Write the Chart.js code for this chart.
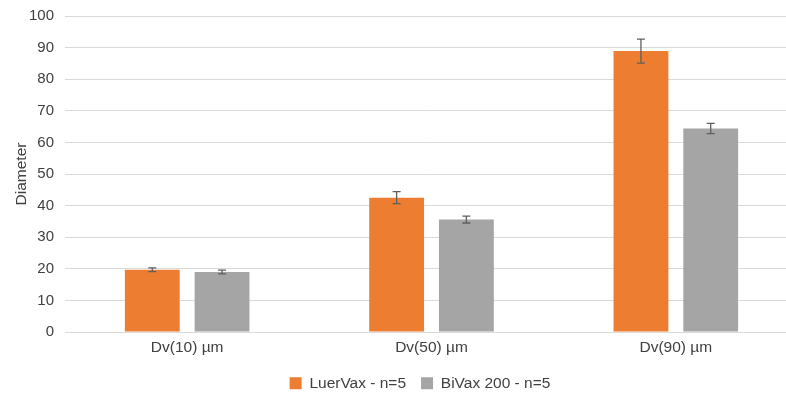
<!DOCTYPE html>
<html>
<head>
<meta charset="utf-8">
<script src="https://cdn.jsdelivr.net/npm/chart.js@4"></script>
<style>
html,body{margin:0;padding:0;background:#fff;overflow:hidden;}
#wrap{width:800px;height:405px;margin-top:-4px;}
</style>
</head>
<body>
<div id="wrap"><canvas id="c" width="800" height="405"></canvas></div>
<script>
const categories = ['Dv(10) µm', 'Dv(50) µm', 'Dv(90) µm'];
const luerVaxLabel = 'LuerVax - n=5';
const biVaxLabel = 'BiVax 200 - n=5';
const luerVax = [19.7, 42.5, 88.9];
const luerVaxErr = [0.6, 1.9, 3.8];
const biVax = [19.0, 35.6, 64.4];
const biVaxErr = [0.6, 1.1, 1.6];
const yTicks = [0, 10, 20, 30, 40, 50, 60, 70, 80, 90, 100];

const errorBars = {
  id: 'errorBars',
  afterDatasetsDraw(chart) {
    const ctx = chart.ctx;
    const y = chart.scales.y;
    chart.data.datasets.forEach((ds, i) => {
      const meta = chart.getDatasetMeta(i);
      meta.data.forEach((bar, j) => {
        const v = ds.data[j], e = ds.errors[j];
        const top = y.getPixelForValue(v + e), bot = y.getPixelForValue(v - e);
        const x = bar.x;
        ctx.save();
        ctx.strokeStyle = '#5f5f5f';
        ctx.lineWidth = 1.3;
        ctx.beginPath();
        ctx.moveTo(x, top); ctx.lineTo(x, bot);
        ctx.moveTo(x - 4, top); ctx.lineTo(x + 4, top);
        ctx.moveTo(x - 4, bot); ctx.lineTo(x + 4, bot);
        ctx.stroke();
        ctx.restore();
      });
    });
  }
};

const legendShift = {
  id: 'legendShift',
  afterLayout(chart) {
    if (chart.legend) { chart.legend.left += 15; chart.legend.right += 15; }
  }
};

Chart.defaults.font.family = '"Liberation Sans", Arial, sans-serif';
Chart.defaults.font.size = 15;
Chart.defaults.color = '#404040';

new Chart(document.getElementById('c'), {
  type: 'bar',
  data: {
    labels: categories,
    datasets: [
      { label: luerVaxLabel, data: luerVax, errors: luerVaxErr, backgroundColor: '#ED7D31',
        categoryPercentage: 0.571, barPercentage: 0.786 },
      { label: biVaxLabel, data: biVax, errors: biVaxErr, backgroundColor: '#A5A5A5',
        categoryPercentage: 0.571, barPercentage: 0.786 }
    ]
  },
  options: {
    responsive: false,
    animation: false,
    layout: { padding: { top: 4, right: 2, left: 12, bottom: 0 } },
    plugins: {
      legend: {
        position: 'bottom',
        labels: { boxWidth: 12, boxHeight: 12, padding: 15, color: '#404040', font: { size: 15.5 } }
      },
      tooltip: { enabled: false }
    },
    scales: {
      x: {
        grid: { display: false },
        border: { color: '#D9D9D9' },
        ticks: { color: '#404040', padding: -2, font: { size: 15.5 } },
        afterFit(s) { s.height = 28.5; }
      },
      y: {
        min: 0, max: 100,
        afterBuildTicks(s) { s.ticks = yTicks.map(v => ({ value: v })); },
        grid: { color: '#D9D9D9', drawTicks: false },
        border: { display: false },
        ticks: { color: '#404040', padding: 11, font: { size: 15 } },
        title: { display: true, text: 'Diameter', color: '#404040', font: { size: 15.5 }, padding: 0 },
        afterFit(s) { s.width = 53; }
      }
    }
  },
  plugins: [errorBars, legendShift]
});
</script>
</body>
</html>
